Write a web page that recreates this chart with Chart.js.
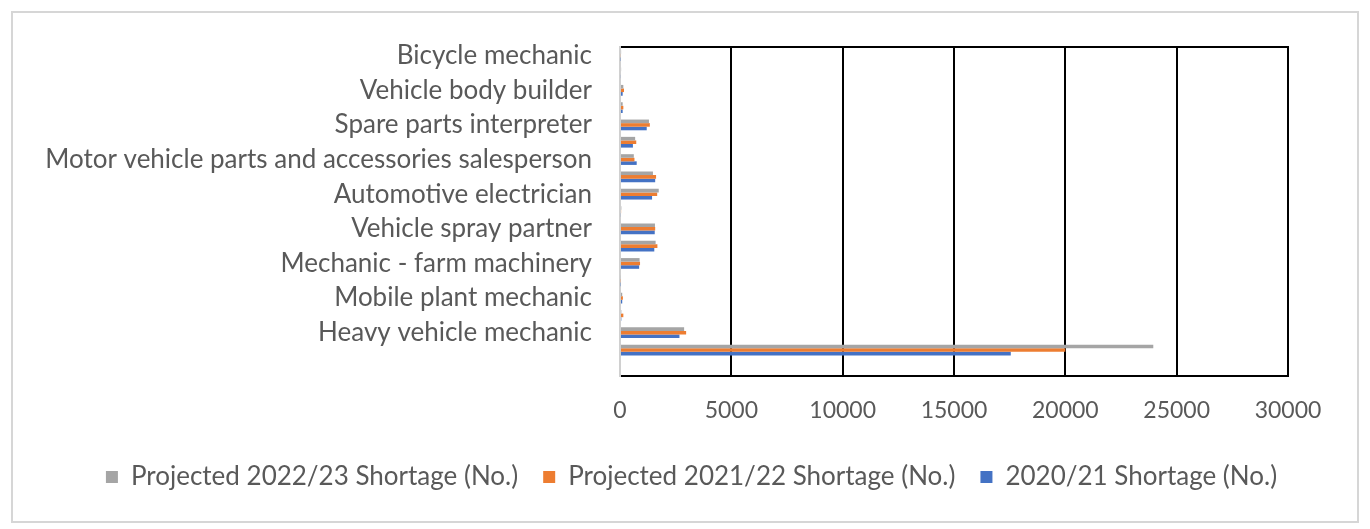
<!DOCTYPE html>
<html>
<head>
<meta charset="utf-8">
<script src="https://cdn.jsdelivr.net/npm/chart.js"></script>
<style>
  body { margin: 0; background: #fff; }
  #frame { position: absolute; left: 11px; top: 11px; width: 1348px; height: 512px; border: 2px solid #d6d6d6; box-sizing: border-box; }
  #wrap { position: relative; width: 1344px; height: 508px; }
</style>
</head>
<body>
<div id="frame"><div id="wrap"><canvas id="shortageChart"></canvas></div></div>
<script>
// categories top to bottom, blank ones have no label in the source
var occupations = ['Bicycle mechanic', '', 'Vehicle body builder', '', 'Spare parts interpreter', '',
    'Motor vehicle parts and accessories salesperson', '', 'Automotive electrician', '',
    'Vehicle spray partner', '', 'Mechanic - farm machinery', '', 'Mobile plant mechanic', '',
    'Heavy vehicle mechanic', '', ''];

var shortage2223 = [50, 50, 150, 120, 1300, 680, 620, 1480, 1740, 60, 1570, 1600, 880, 40, 100, 60, 2880, 23950, 0];
var shortage2122 = [40, 45, 180, 150, 1340, 730, 650, 1620, 1670, 50, 1580, 1680, 900, 35, 130, 150, 2970, 20000, 0];
var shortage2021 = [30, 40, 120, 120, 1200, 580, 750, 1580, 1440, 40, 1560, 1540, 860, 30, 100, 60, 2670, 17550, 0];

var seriesNames = ['Projected 2022/23 Shortage (No.)', 'Projected 2021/22 Shortage (No.)', '2020/21 Shortage (No.)'];
var xTicks = [0, 5000, 10000, 15000, 20000, 25000, 30000];

var textColor = '#595959';
var fontFamily = 'Lato, "Open Sans", sans-serif';

// the legend sits a bit right of centre in the original
var legendShift = {
    id: 'legendShift',
    afterLayout: function(chart) {
        chart.legend.left += 41;
        chart.legend.right += 41;
    }
};

document.addEventListener("DOMContentLoaded", function() {
    var ctx = document.getElementById('shortageChart').getContext('2d');
    var chart = new Chart(ctx, {
        type: 'bar',
        data: {
            labels: occupations,
            datasets: [{
                label: seriesNames[0],
                data: shortage2223,
                backgroundColor: '#a5a5a5'
            }, {
                label: seriesNames[1],
                data: shortage2122,
                backgroundColor: '#ed7d31'
            }, {
                label: seriesNames[2],
                data: shortage2021,
                backgroundColor: '#4472c4'
            }]
        },
        plugins: [legendShift],
        options: {
            indexAxis: 'y',
            responsive: true,
            maintainAspectRatio: false,
            animation: false,
            categoryPercentage: 0.62,
            barPercentage: 1.0,
            layout: {
                padding: { left: 0, right: 69, top: 34, bottom: 21 }
            },
            plugins: {
                tooltip: { enabled: false },
                legend: {
                    position: 'bottom',
                    labels: {
                        boxWidth: 12,
                        boxHeight: 12,
                        padding: 25,
                        color: textColor,
                        font: { family: fontFamily, size: 26 }
                    }
                }
            },
            scales: {
                x: {
                    min: 0,
                    max: 30000,
                    afterBuildTicks: function(scale) {
                        scale.ticks = xTicks.map(function(v) { return { value: v }; });
                    },
                    afterFit: function(scale) { scale.height = 63; },
                    grid: {
                        drawTicks: false,
                        lineWidth: 2,
                        color: function(c) { return c.tick && c.tick.value === 0 ? 'rgba(0,0,0,0)' : '#000000'; }
                    },
                    border: { display: true, color: '#000000', width: 2 },
                    ticks: {
                        padding: 21,
                        color: textColor,
                        font: { family: fontFamily, size: 23 },
                        callback: function(value) { return String(value); }
                    }
                },
                xTop: {
                    position: 'top',
                    min: 0,
                    max: 30000,
                    afterFit: function(scale) { scale.height = 0; },
                    grid: { display: false, drawTicks: false },
                    border: { display: true, color: '#000000', width: 2 },
                    ticks: { display: false }
                },
                y: {
                    afterFit: function(scale) {
                        scale.width = 607;
                        scale.paddingTop = 0;
                        scale.paddingBottom = 0;
                    },
                    grid: { display: false, drawTicks: false },
                    border: { display: true, color: '#d0d0d0', width: 2 },
                    ticks: {
                        autoSkip: false,
                        padding: 28,
                        color: textColor,
                        font: { family: fontFamily, size: 26 }
                    }
                }
            }
        }
    });
});
</script>
</body>
</html>
